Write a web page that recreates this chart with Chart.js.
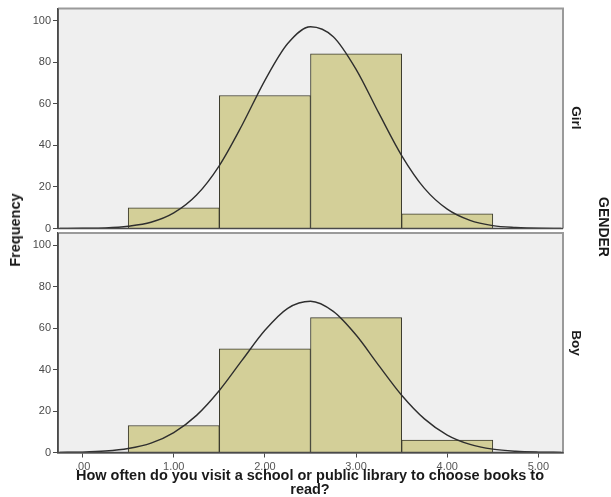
<!DOCTYPE html>
<html>
<head>
<meta charset="utf-8">
<script src="https://cdn.jsdelivr.net/npm/chart.js@4"></script>
<style>
  html, body { margin: 0; padding: 0; background: #ffffff; }
  #wrap { position: relative; width: 611px; height: 497px; overflow: hidden; font-family: "Liberation Sans", Arial, sans-serif; }
  canvas { position: absolute; left: 0; top: 0; }
  .lbl { position: absolute; font-weight: bold; color: #1a1a1a; white-space: nowrap; transform-origin: center center; }
</style>
</head>
<body>
<div id="wrap">
  <canvas id="c1" width="611" height="497"></canvas>
  <canvas id="c2" width="611" height="497"></canvas>
  <div class="lbl" id="yTitle" style="font-size:14.5px; left:15px; top:230px; transform:translate(-50%,-50%) rotate(-90deg);">Frequency</div>
  <div class="lbl" id="gTitle" style="font-size:14px; left:604px; top:227px; transform:translate(-50%,-50%) rotate(90deg);">GENDER</div>
  <div class="lbl" id="p1" style="font-size:13.5px; left:576px; top:118px; transform:translate(-50%,-50%) rotate(90deg);">Girl</div>
  <div class="lbl" id="p2" style="font-size:13.5px; left:576px; top:343px; transform:translate(-50%,-50%) rotate(90deg);">Boy</div>
  <div class="lbl" id="xTitle" style="font-size:14.5px; left:310px; top:482px; transform:translate(-50%,-50%); text-align:center; line-height:14px;">How often do you visit a school or public library to choose books to<br>read?</div>
</div>
<script>
// ---- data ----
const categories = [1, 2, 3, 4];
const girlFreq = [10, 64, 84, 7];
const boyFreq  = [13, 50, 65, 6];

// normal curve at quarter steps
const curveX    = [-0.25, 0, 0.25, 0.5, 0.75, 1, 1.25, 1.5, 1.75, 2, 2.25, 2.5, 2.75, 3, 3.25, 3.5, 3.75, 4, 4.25, 4.5, 4.75, 5, 5.25];
const girlCurve = [0.02, 0.1, 0.3, 1.1, 3.0, 7.5, 16.1, 30.3, 49.8, 71.3, 89.0, 97.1, 92.3, 76.6, 55.5, 35.1, 19.3, 9.3, 3.9, 1.4, 0.5, 0.1, 0.03];
const boyCurve  = [0.07, 0.2, 0.7, 1.9, 4.5, 9.6, 17.9, 29.9, 44.5, 58.9, 69.5, 72.9, 68.0, 56.6, 41.9, 27.6, 16.2, 8.4, 3.9, 1.6, 0.6, 0.2, 0.06];

const xTicks = [0, 1, 2, 3, 4, 5];
const xTickLabels = ['.00', '1.00', '2.00', '3.00', '4.00', '5.00'];
const yTicks = [0, 20, 40, 60, 80, 100];
const yTickLabels = ['0', '20', '40', '60', '80', '100'];

const FONT = '"Liberation Sans", Arial, sans-serif';

const panelPlugin = {
  id: 'panel',
  beforeDraw(chart) {
    const a = chart.chartArea, ctx = chart.ctx;
    ctx.save();
    ctx.fillStyle = '#efefef';
    ctx.fillRect(a.left, a.top, a.right - a.left, a.bottom - a.top);
    ctx.restore();
  },
  afterDraw(chart) {
    const a = chart.chartArea, ctx = chart.ctx;
    ctx.save();
    ctx.strokeStyle = '#9a9a9a';
    ctx.lineWidth = 2;
    ctx.beginPath();
    ctx.moveTo(a.left, a.top); ctx.lineTo(a.right, a.top); ctx.lineTo(a.right, a.bottom);
    ctx.stroke();
    ctx.strokeStyle = '#4a4a4a';
    ctx.lineWidth = 1.5;
    ctx.beginPath();
    ctx.moveTo(a.left, a.top); ctx.lineTo(a.left, a.bottom); ctx.lineTo(a.right, a.bottom);
    ctx.stroke();
    ctx.restore();
  }
};

function makeChart(id, freq, curve, padTop, padBottom, showX) {
  return new Chart(document.getElementById(id), {
    type: 'bar',
    data: {
      datasets: [
        {
          type: 'line',
          data: curveX.map((x, i) => ({ x: x, y: curve[i] })),
          borderColor: '#2e2e2e',
          borderWidth: 1.4,
          pointRadius: 0,
          tension: 0.4,
          cubicInterpolationMode: 'monotone',
          fill: false,
          order: 0
        },
        {
          type: 'bar',
          data: categories.map((c, i) => ({ x: c, y: freq[i] })),
          backgroundColor: '#d3cf98',
          borderColor: '#3b3a2c',
          borderWidth: 1,
          barPercentage: 1,
          categoryPercentage: 1,
          order: 1
        }
      ]
    },
    options: {
      responsive: false,
      animation: false,
      events: [],
      layout: { padding: { top: padTop, bottom: padBottom, left: 0, right: 48 } },
      plugins: { legend: { display: false }, tooltip: { enabled: false } },
      scales: {
        x: {
          type: 'linear',
          min: -0.27,
          max: 5.27,
          offset: false,
          display: showX,
          afterBuildTicks: s => { s.ticks = xTicks.map(v => ({ value: v })); },
          afterFit: s => { s.height = showX ? 44.5 : 0; },
          ticks: {
            callback: (v) => xTickLabels[xTicks.indexOf(v)],
            font: { family: FONT, size: 11 },
            color: '#555555',
            padding: 3,
            maxRotation: 0,
            autoSkip: false
          },
          grid: { display: true, offset: false, drawOnChartArea: false, drawTicks: true, tickLength: 5, color: '#4a4a4a', lineWidth: 1 },
          border: { display: true, color: '#333333', width: 1.5 }
        },
        y: {
          min: 0,
          max: 105.8,
          afterBuildTicks: s => { s.ticks = yTicks.map(v => ({ value: v })); },
          afterFit: s => { s.width = 58; },
          ticks: {
            callback: (v) => yTickLabels[yTicks.indexOf(v)],
            font: { family: FONT, size: 11 },
            color: '#4a4a4a',
            padding: 2
          },
          grid: { display: true, drawOnChartArea: false, drawTicks: true, tickLength: 5, color: '#4a4a4a', lineWidth: 1 },
          border: { display: true, color: '#4a4a4a', width: 1.5 }
        }
      }
    },
    plugins: [panelPlugin]
  });
}

makeChart('c1', girlFreq, girlCurve, 8.5, 497 - 228.5, false);
makeChart('c2', boyFreq, boyCurve, 233, 0, true);
</script>
</body>
</html>
